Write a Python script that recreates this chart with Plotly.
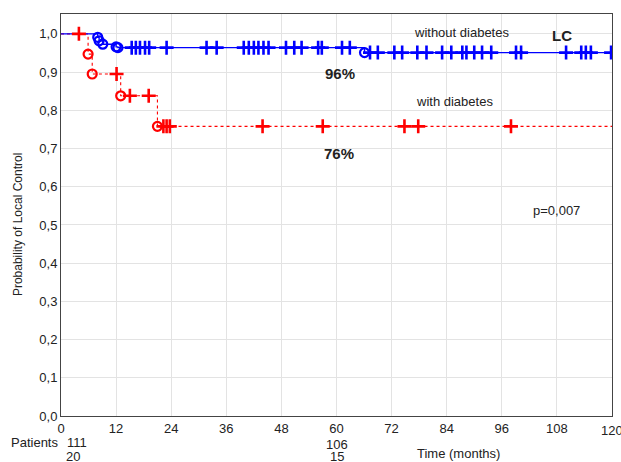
import numpy as np
import plotly.graph_objects as go

# ---- data ----
blue_event_times = [8.0, 8.3, 9.1, 12.0, 12.4, 66.1]
blue_event_surv = [0.991, 0.982, 0.973, 0.966, 0.964, 0.951]
blue_censor_times = [15.4, 16.3, 17.2, 18.3, 19.2, 23.0, 31.7, 33.9, 39.8, 40.9, 42.0,
                     43.0, 44.1, 45.2, 49.0, 50.8, 52.4, 56.0, 56.8, 61.2, 62.9, 67.3,
                     69.0, 72.6, 74.3, 77.6, 79.6, 83.0, 85.0, 87.4, 88.3, 90.0, 91.7,
                     93.7, 99.1, 100.2, 110.0, 113.3, 114.3, 115.4, 119.8]

red_event_times = [5.9, 6.8, 13.0, 21.0]
red_event_surv = [0.947, 0.895, 0.838, 0.758]
red_censor_times = [3.9, 12.1, 15.0, 19.1, 22.3, 23.0, 23.7, 43.9, 57.0, 74.8, 77.8, 98.0]

x_ticks = [0, 12, 24, 36, 48, 60, 72, 84, 96, 108, 120]
y_ticks = [0.0, 0.1, 0.2, 0.3, 0.4, 0.5, 0.6, 0.7, 0.8, 0.9, 1.0]
y_tick_labels = ["0,0", "0,1", "0,2", "0,3", "0,4", "0,5", "0,6", "0,7", "0,8", "0,9", "1,0"]
x_max = 120

BLUE = "rgb(0,0,255)"
RED = "rgb(255,0,0)"
FONT = "Liberation Sans, Arial, sans-serif"
TXT = "#222222"


def step_xy(times, surv):
    xs = [0] + list(times) + [x_max]
    ys = [1.0] + list(surv) + [surv[-1]]
    return xs, ys


def surv_at(times, surv, t):
    idx = np.searchsorted(np.array(times), np.array(t), side="right")
    levels = np.array([1.0] + list(surv))
    return levels[idx]


fig = go.Figure()

# curves
bx, by = step_xy(blue_event_times, blue_event_surv)
rx, ry = step_xy(red_event_times, red_event_surv)
fig.add_trace(go.Scatter(x=rx, y=ry, mode="lines", line=dict(color=RED, width=1.1, dash="dot", shape="hv"),
                         hoverinfo="skip", showlegend=False))
fig.add_trace(go.Scatter(x=bx, y=by, mode="lines", line=dict(color=BLUE, width=1.4, shape="hv"),
                         hoverinfo="skip", showlegend=False))

# events (circles)
fig.add_trace(go.Scatter(x=red_event_times, y=red_event_surv, mode="markers",
                         marker=dict(symbol="circle-open", size=9, color=RED, line=dict(width=2.2, color=RED)),
                         showlegend=False))
fig.add_trace(go.Scatter(x=blue_event_times, y=blue_event_surv, mode="markers",
                         marker=dict(symbol="circle-open", size=9, color=BLUE, line=dict(width=2.2, color=BLUE)),
                         showlegend=False))

# censored (+)
fig.add_trace(go.Scatter(x=red_censor_times, y=surv_at(red_event_times, red_event_surv, red_censor_times),
                         mode="markers",
                         marker=dict(symbol="cross-thin", size=10, color=RED, line=dict(width=2.6, color=RED)),
                         showlegend=False))
fig.add_trace(go.Scatter(x=blue_censor_times, y=surv_at(blue_event_times, blue_event_surv, blue_censor_times),
                         mode="markers",
                         marker=dict(symbol="cross-thin", size=10, color=BLUE, line=dict(width=2.6, color=BLUE)),
                         showlegend=False))

ann = []
def a(text, x, y, size=13, bold=False, xref="x", yref="y", xanchor="center", yanchor="middle", angle=0):
    ann.append(dict(text=f"<b>{text}</b>" if bold else text, x=x, y=y, xref=xref, yref=yref,
                    xanchor=xanchor, yanchor=yanchor, showarrow=False, textangle=angle,
                    font=dict(family=FONT, size=size, color=TXT)))

a("without diabetes", 87.3, 1.003)
a("LC", 109.1, 0.995, size=15, bold=True)
a("96%", 60.8, 0.895, size=15, bold=True)
a("with diabetes", 85.8, 0.822)
a("76%", 60.5, 0.688, size=15, bold=True)
a("p=0,007", 108.0, 0.537)

# last x tick label (at the right edge)
a(str(x_ticks[-1]), x_ticks[-1], -0.0365, yref="paper")

# below the axis
a("Patients", -0.094, -0.0647, xref="paper", yref="paper", xanchor="left")
a("111", 0.9, -0.0647, yref="paper", xanchor="left")
a("20", 0.7, -0.1, yref="paper", xanchor="left")
a("106", 60.1, -0.0697, yref="paper")
a("15", 60.1, -0.1, yref="paper")
a("Time (months)", 86.5, -0.0945, yref="paper")
a("Probability of Local Control", -0.078, 0.475, size=12, xref="paper", yref="paper", angle=-90)

fig.update_layout(
    width=621, height=462,
    margin=dict(l=61, r=9, t=14, b=46),
    paper_bgcolor="white", plot_bgcolor="white",
    font=dict(family=FONT, size=13, color=TXT),
    annotations=ann,
    xaxis=dict(range=[0, x_max], tickvals=x_ticks[:-1], ticktext=[str(v) for v in x_ticks[:-1]],
               showgrid=True, gridcolor="#e3e3e3", gridwidth=1, zeroline=False,
               showline=True, linecolor="#444444", linewidth=1, mirror=True, ticks="",
               tickfont=dict(family=FONT, size=13, color=TXT)),
    yaxis=dict(range=[0, 1.052], tickvals=y_ticks, ticktext=y_tick_labels,
               showgrid=True, gridcolor="#e3e3e3", gridwidth=1, zeroline=False,
               showline=True, linecolor="#444444", linewidth=1, mirror=True, ticks="",
               tickfont=dict(family=FONT, size=13, color=TXT)),
)

fig.write_html("out.html")
